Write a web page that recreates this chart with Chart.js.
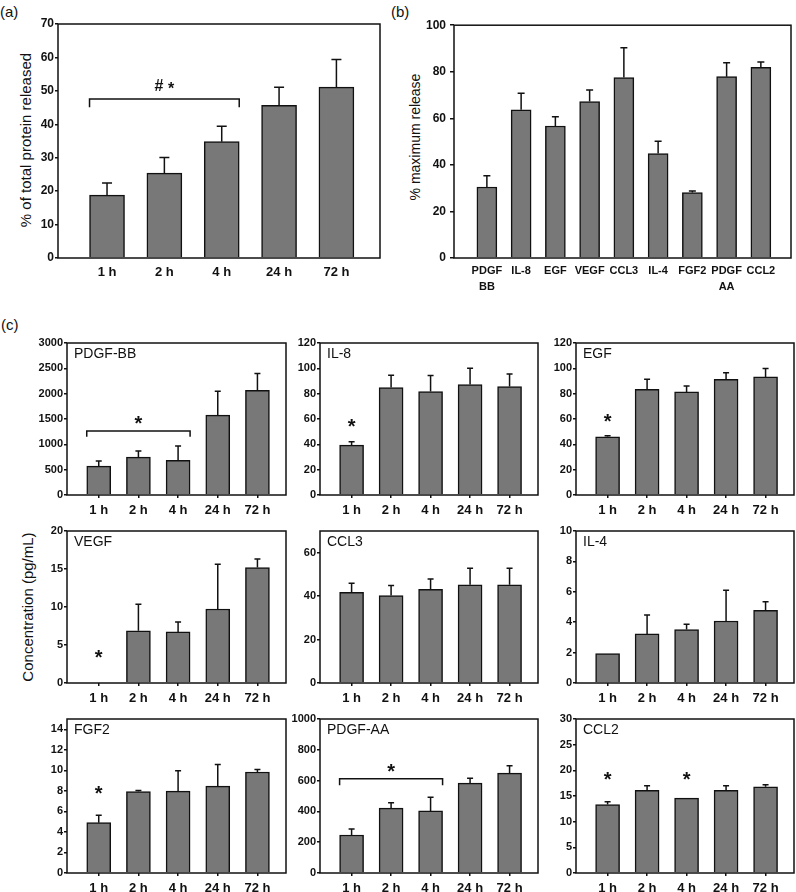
<!DOCTYPE html>
<html>
<head>
<meta charset="utf-8">
<script src="https://cdn.jsdelivr.net/npm/chart.js@4.4.0/dist/chart.umd.min.js"></script>
<style>
  html, body { margin: 0; padding: 0; background: #fff; overflow: hidden; }
  #fig { position: relative; width: 796px; height: 892px; font-family: "Liberation Sans", Arial, sans-serif; color: #111; }
  #fig canvas { position: absolute; }
  .lbl { position: absolute; font-size: 15px; line-height: 18px; }
  .ytitle { position: absolute; white-space: nowrap; transform: translate(-50%, -50%) rotate(-90deg); }
</style>
</head>
<body>
<div id="fig">
  <div class="lbl" style="left:0;top:3px">(a)</div>
  <div class="lbl" style="left:391px;top:3px">(b)</div>
  <div class="lbl" style="left:1px;top:316px">(c)</div>
  <div class="ytitle" style="left:25px;top:140px;font-size:15px">% of total protein released</div>
  <div class="ytitle" style="left:415px;top:137px;font-size:14px">% maximum release</div>
  <div class="ytitle" style="left:27px;top:607px;font-size:15px">Concentration (pg/mL)</div>
</div>
<script>
const timeLabels = ['1 h', '2 h', '4 h', '24 h', '72 h'];

// (a) % of total protein released (mean, SD)
const totalReleased = [18.8, 25.4, 34.8, 45.7, 51.1];
const totalReleasedSd = [3.6, 4.7, 4.6, 5.4, 8.3];
const totalTicks = [0, 10, 20, 30, 40, 50, 60, 70];

// (b) % maximum release per factor
const factorLabels = [['PDGF', 'BB'], 'IL-8', 'EGF', 'VEGF', 'CCL3', 'IL-4', 'FGF2', ['PDGF', 'AA'], 'CCL2'];
const maxRelease = [30.5, 63.7, 56.7, 67.2, 77.5, 44.9, 28.1, 77.9, 81.9];
const maxReleaseSd = [4.8, 7.1, 4.0, 5.0, 12.8, 5.2, 0.7, 6.0, 2.3];
const maxTicks = [0, 20, 40, 60, 80, 100];

// (c) concentrations, pg/mL
const pdgfBB = [571, 748, 683, 1576, 2068];
const pdgfBBSd = [99, 119, 282, 473, 329];
const pdgfBBTicks = [0, 500, 1000, 1500, 2000, 2500, 3000];

const il8 = [39.4, 84.8, 81.7, 87.2, 85.6];
const il8Sd = [2.6, 9.7, 12.6, 12.9, 10.0];
const il8Ticks = [0, 20, 40, 60, 80, 100, 120];

const egf = [46.0, 83.5, 81.4, 91.4, 93.2];
const egfSd = [0.7, 7.9, 4.7, 5.2, 6.6];
const egfTicks = [0, 20, 40, 60, 80, 100, 120];

const vegf = [0, 6.86, 6.72, 9.74, 15.2];
const vegfSd = [0, 3.5, 1.3, 5.9, 1.1];
const vegfTicks = [0, 5, 10, 15, 20];

const ccl3 = [41.7, 40.3, 43.1, 45.2, 45.2];
const ccl3Sd = [4.2, 4.6, 4.8, 7.7, 7.7];
const ccl3Ticks = [0, 20, 40, 60];

const il4 = [1.94, 3.23, 3.52, 4.08, 4.78];
const il4Sd = [0, 1.25, 0.34, 2.03, 0.57];
const il4Ticks = [0, 2, 4, 6, 8, 10];

const fgf2 = [4.9, 7.94, 7.97, 8.46, 9.84];
const fgf2Sd = [0.72, 0.1, 2.0, 2.1, 0.23];
const fgf2Ticks = [0, 2, 4, 6, 8, 10, 12, 14];

const pdgfAA = [247, 421, 403, 584, 649];
const pdgfAASd = [39, 35, 89, 32, 47];
const pdgfAATicks = [0, 200, 400, 600, 800, 1000];

const ccl2 = [13.34, 16.1, 14.6, 16.1, 16.8];
const ccl2Sd = [0.56, 0.9, 0, 0.9, 0.4];
const ccl2Ticks = [0, 5, 10, 15, 20, 25, 30];

const FONT = '"Liberation Sans", Arial, sans-serif';
Chart.defaults.font.family = FONT;
Chart.defaults.color = '#111';

// draws "*" / "# *" centred on (cx, cy)
function drawSig(ctx, text, cx, cy, size) {
  ctx.font = 'bold ' + size + 'px ' + FONT;
  ctx.textAlign = 'left';
  ctx.textBaseline = 'alphabetic';
  let x = cx - ctx.measureText(text).width / 2;
  for (const ch of text) {
    const base = ch === '*' ? cy + 0.58 * size : cy + 0.36 * size;
    ctx.fillText(ch, x, base);
    x += ctx.measureText(ch).width;
  }
}

const decor = {
  id: 'decor',
  afterDraw(chart, args, o) {
    const ctx = chart.ctx, a = chart.chartArea, y = chart.scales.y;
    const ds = chart.data.datasets[0], bars = chart.getDatasetMeta(0).data;
    ctx.save();
    ctx.strokeStyle = '#111';
    ctx.fillStyle = '#111';
    ctx.lineWidth = 1.5;
    // error bars, upper half only
    bars.forEach((b, i) => {
      const e = ds.sd[i];
      if (!e) return;
      const top = y.getPixelForValue(ds.data[i].y + e);
      ctx.beginPath();
      ctx.moveTo(b.x, b.y);
      ctx.lineTo(b.x, top);
      ctx.moveTo(b.x - o.cap, top);
      ctx.lineTo(b.x + o.cap, top);
      ctx.stroke();
    });
    ctx.strokeRect(a.left, a.top, a.right - a.left, a.bottom - a.top);
    (o.brackets || []).forEach(k => {
      const x0 = bars[k.from].x - bars[k.from].width / 2;
      const x1 = bars[k.to].x + bars[k.to].width / 2;
      const yy = y.getPixelForValue(k.y), yd = y.getPixelForValue(k.y - k.drop);
      ctx.beginPath();
      ctx.moveTo(x0, yd); ctx.lineTo(x0, yy); ctx.lineTo(x1, yy); ctx.lineTo(x1, yd);
      ctx.stroke();
      drawSig(ctx, k.text, (x0 + x1) / 2, y.getPixelForValue(k.textY), o.star);
    });
    (o.marks || []).forEach(m => drawSig(ctx, '*', bars[m.i].x, y.getPixelForValue(m.y), o.star));
    if (o.title) {
      ctx.font = '14px ' + FONT;
      ctx.textAlign = 'left';
      ctx.textBaseline = 'middle';
      ctx.fillText(o.title, a.left + 7, a.top + 11);
    }
    ctx.restore();
  }
};
Chart.register(decor);

function makeChart(box, cats, values, sd, yMax, yTicks, o) {
  const padTop = 10, padRight = o.padRight;
  const w = o.yW + (box.r - box.l) + padRight;
  const h = padTop + (box.b - box.t) + o.xH;
  const cv = document.createElement('canvas');
  cv.width = w; cv.height = h;
  cv.style.width = w + 'px'; cv.style.height = h + 'px';
  cv.style.left = (box.l - o.yW) + 'px';
  cv.style.top = (box.t - padTop) + 'px';
  document.getElementById('fig').appendChild(cv);

  new Chart(cv, {
    type: 'bar',
    data: {
      datasets: [{
        data: values.map((v, i) => ({ x: i, y: v })),
        sd: sd,
        backgroundColor: '#787878',
        borderColor: '#111',
        borderWidth: 1.5,
        barThickness: o.barW
      }]
    },
    options: {
      responsive: false,
      animation: false,
      devicePixelRatio: 1,
      layout: { padding: { top: padTop, right: padRight, left: 0, bottom: 0 } },
      plugins: {
        legend: { display: false },
        tooltip: { enabled: false },
        decor: { cap: o.cap, star: o.star, title: o.title, marks: o.marks, brackets: o.brackets }
      },
      scales: {
        x: {
          type: 'linear', bounds: 'data', offset: false, min: o.xMin, max: o.xMax,
          afterBuildTicks: s => { s.ticks = cats.map((c, i) => ({ value: i })); },
          afterFit: s => { s.height = o.xH; },
          ticks: {
            callback: v => cats[v], autoSkip: false, maxRotation: 0,
            font: { size: o.xFont, weight: 'bold', lineHeight: o.xLine },
            color: '#111', padding: o.xPad
          },
          grid: { display: o.xTicks, offset: false, drawOnChartArea: false, drawTicks: o.xTicks, tickLength: 3, color: '#111', lineWidth: 1.5 },
          border: { display: false }
        },
        y: {
          type: 'linear', bounds: 'data', min: 0, max: yMax,
          afterBuildTicks: s => { s.ticks = yTicks.map(v => ({ value: v })); },
          afterFit: s => { s.width = o.yW; },
          ticks: { callback: v => String(v), font: { size: o.yFont, weight: 'bold' }, color: '#111', padding: o.yPad },
          grid: { drawOnChartArea: false, tickLength: o.yTick, color: '#111', lineWidth: 1.5 },
          border: { display: false }
        }
      }
    }
  });
}

// (a)
makeChart({ l: 58, t: 24, r: 380, b: 258 }, timeLabels, totalReleased, totalReleasedSd, 70, totalTicks, {
  yW: 58, xH: 34, padRight: 10, xMin: -0.855, xMax: 4.76, barW: 35, cap: 5, star: 16,
  xFont: 13, xLine: 1.2, xPad: 7, xTicks: false, yFont: 12, yPad: 1, yTick: 3,
  brackets: [{ from: 0, to: 2, y: 47.6, drop: 2.5, text: '# *', textY: 51.8 }]
});

// (b)
makeChart({ l: 454, t: 24, r: 791, b: 258 }, factorLabels, maxRelease, maxReleaseSd, 100, maxTicks, {
  yW: 40, xH: 40, padRight: 4, xMin: -0.96, xMax: 8.88, barW: 20, cap: 3.5, star: 16,
  xFont: 11, xLine: 1.45, xPad: 5, xTicks: false, yFont: 12, yPad: 4, yTick: 4
});

// (c) 3 x 3 grid
const cols = [[67, 286], [320, 538], [576, 794]];
const rows = [[343, 495], [531, 683], [719, 873]];
const panels = [
  { title: 'PDGF-BB', v: pdgfBB, sd: pdgfBBSd, max: 3000, ticks: pdgfBBTicks,
    brackets: [{ from: 0, to: 2, y: 1261, drop: 112, text: '*', textY: 1510 }] },
  { title: 'IL-8', v: il8, sd: il8Sd, max: 120, ticks: il8Ticks, marks: [{ i: 0, y: 57.8 }] },
  { title: 'EGF', v: egf, sd: egfSd, max: 120, ticks: egfTicks, marks: [{ i: 0, y: 62.2 }] },
  { title: 'VEGF', v: vegf, sd: vegfSd, max: 20, ticks: vegfTicks, marks: [{ i: 0, y: 4.06 }] },
  { title: 'CCL3', v: ccl3, sd: ccl3Sd, max: 70, ticks: ccl3Ticks },
  { title: 'IL-4', v: il4, sd: il4Sd, max: 10, ticks: il4Ticks },
  { title: 'FGF2', v: fgf2, sd: fgf2Sd, max: 15, ticks: fgf2Ticks, marks: [{ i: 0, y: 8.2 }] },
  { title: 'PDGF-AA', v: pdgfAA, sd: pdgfAASd, max: 1000, ticks: pdgfAATicks,
    brackets: [{ from: 0, to: 2, y: 612, drop: 42, text: '*', textY: 694 }] },
  { title: 'CCL2', v: ccl2, sd: ccl2Sd, max: 30, ticks: ccl2Ticks, marks: [{ i: 0, y: 19.3 }, { i: 2, y: 19.3 }] }
];

panels.forEach((p, k) => {
  const c = cols[k % 3], r = rows[Math.floor(k / 3)];
  makeChart({ l: c[0], t: r[0], r: c[1], b: r[1] }, timeLabels, p.v, p.sd, p.max, p.ticks, {
    yW: 34, xH: 19, padRight: 1, xMin: -0.8, xMax: 4.72, barW: 24, cap: 3, star: 20,
    xFont: 13, xLine: 1.2, xPad: 5, xTicks: true, yFont: 11, yPad: 1, yTick: 3,
    title: p.title, marks: p.marks, brackets: p.brackets
  });
});
</script>
</body>
</html>
